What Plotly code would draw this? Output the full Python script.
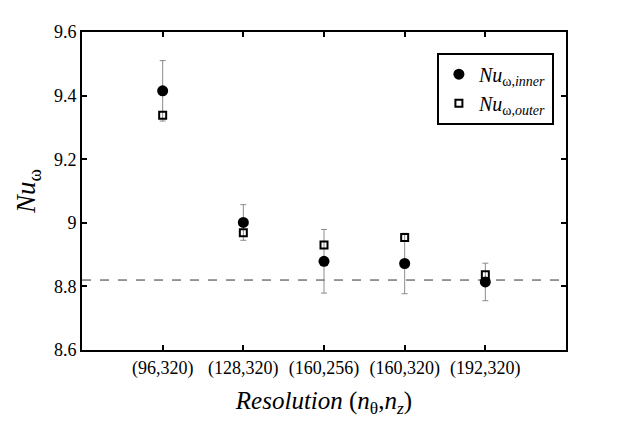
import plotly.graph_objects as go

# Grid resolutions tested
resolutions = ["(96,320)", "(128,320)", "(160,256)", "(160,320)", "(192,320)"]

# Nusselt number (omega) at inner and outer cylinders
nu_inner = [9.415, 9.001, 8.879, 8.872, 8.814]
nu_outer = [9.338, 8.969, 8.930, 8.954, 8.837]
nu_inner_err = [0.095, 0.056, 0.100, 0.095, 0.059]

# reference value (dashed line)
nu_ref = 8.82

serif = "Liberation Serif"

fig = go.Figure()

fig.add_trace(go.Scatter(
    x=resolutions,
    y=nu_inner,
    mode="markers",
    name="<i>Nu</i><sub>ω,<i>inner</i></sub>",
    marker=dict(symbol="circle", size=11, color="black"),
    error_y=dict(type="data", array=nu_inner_err, visible=True,
                 color="#8c8c8c", thickness=1, width=3),
))

fig.add_trace(go.Scatter(
    x=resolutions,
    y=nu_outer,
    mode="markers",
    name="<i>Nu</i><sub>ω,<i>outer</i></sub>",
    marker=dict(symbol="square-open", size=7, color="black",
                line=dict(width=2, color="black")),
))

fig.add_shape(type="line", xref="paper", x0=0, x1=1, yref="y",
              y0=nu_ref, y1=nu_ref,
              line=dict(color="#333333", width=1, dash="dash"),
              layer="below")

# page body adds an 8px offset, margins compensate for it
fig.update_layout(
    width=623, height=431,
    margin=dict(l=74, r=65, t=24, b=89),
    paper_bgcolor="white",
    plot_bgcolor="white",
    font=dict(family=serif, size=18, color="black"),
    showlegend=True,
    legend=dict(
        x=0.975, y=0.935, xanchor="right", yanchor="top",
        bordercolor="black", borderwidth=2,
        bgcolor="white",
        font=dict(family=serif, size=20),
        tracegroupgap=4,
    ),
    xaxis=dict(
        type="category",
        range=[-1, 5],
        showline=True, linecolor="black", linewidth=2, mirror="ticks",
        ticks="inside", ticklen=5, tickwidth=2, tickcolor="black",
        showgrid=False, zeroline=False,
        tickfont=dict(family=serif, size=18),
        title=dict(text="<i>Resolution</i> (<i>n</i><sub>θ</sub>,<i>n</i><sub><i>z</i></sub>)",
                   font=dict(family=serif, size=25), standoff=14),
    ),
    yaxis=dict(
        range=[8.6, 9.6],
        tickvals=[8.6, 8.8, 9.0, 9.2, 9.4, 9.6],
        ticktext=["8.6", "8.8", "9", "9.2", "9.4", "9.6"],
        showline=True, linecolor="black", linewidth=2, mirror="ticks",
        ticks="inside", ticklen=5, tickwidth=2, tickcolor="black",
        showgrid=False, zeroline=False,
        tickfont=dict(family=serif, size=18),
        title=dict(text="<i>Nu</i><sub>ω</sub>",
                   font=dict(family=serif, size=27), standoff=10),
    ),
)

fig.write_html("out.html")
